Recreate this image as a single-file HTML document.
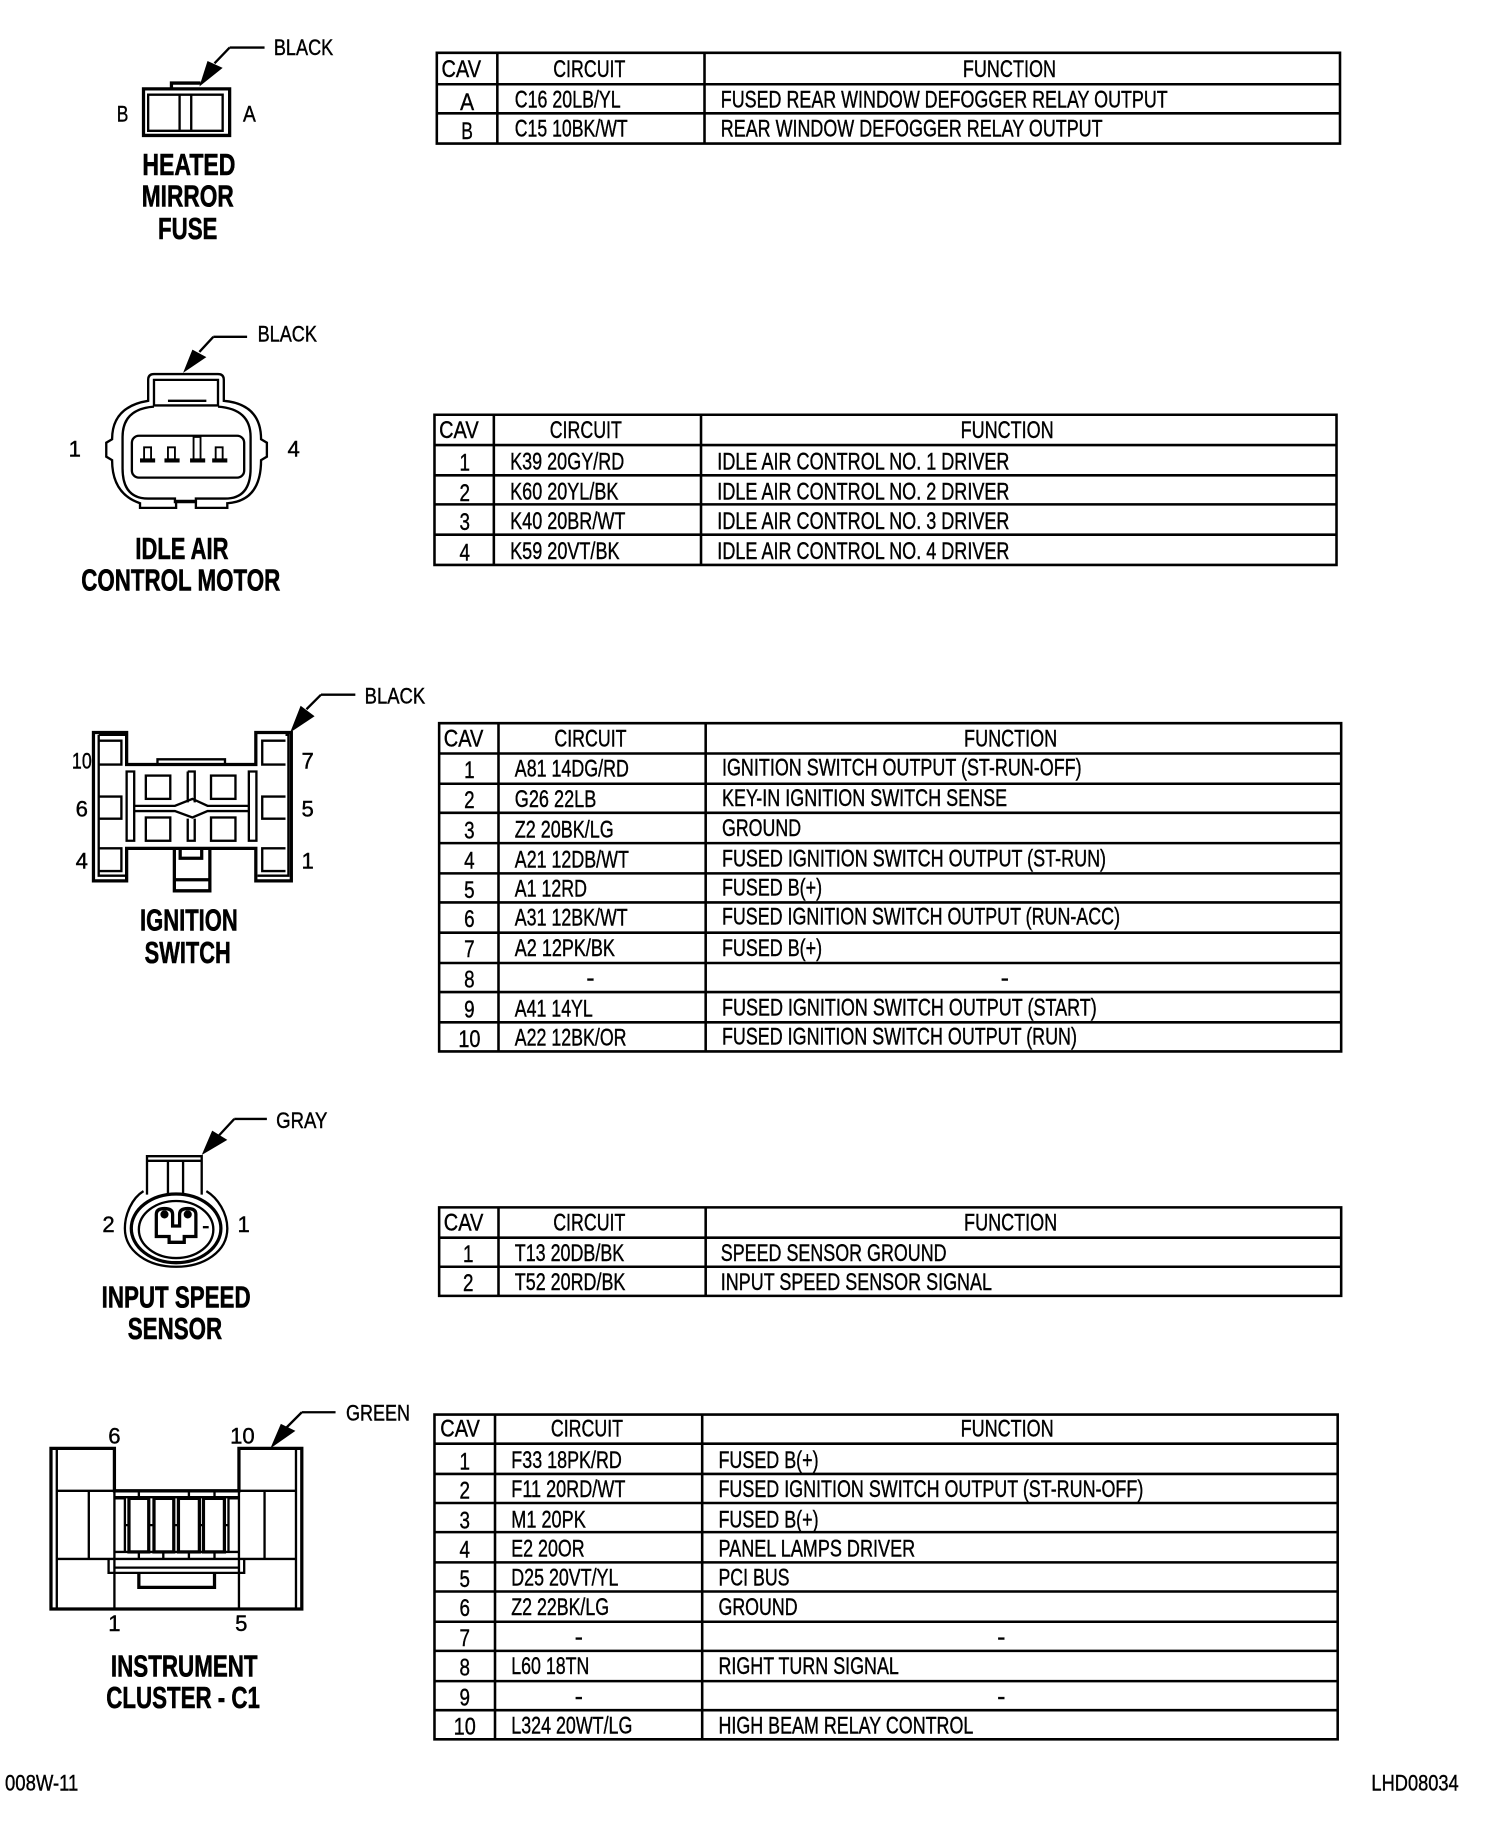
<!DOCTYPE html>
<html><head><meta charset="utf-8"><style>
html,body{margin:0;padding:0;background:#fff;width:1504px;height:1824px;overflow:hidden}
svg{display:block}
text{font-family:"Liberation Sans",sans-serif;fill:#000;font-size:21px;stroke:#000;stroke-width:.35px}
.b{font-weight:bold;font-size:26px;text-anchor:middle;stroke-width:.5px}
.s{font-size:19px}
.g{fill:none;stroke:#000;stroke-width:2}
.t{fill:none;stroke:#000;stroke-width:2.2}
.o{fill:none;stroke:#000;stroke-width:2.8}
.m{text-anchor:middle}
</style></head><body>
<svg xmlns="http://www.w3.org/2000/svg" width="1504" height="1824" viewBox="0 0 1292.2 1567">
<rect width="1293" height="1567" fill="#fff"/>
<g transform="translate(-0.7,-0.7)">

<!-- TABLE 1 -->
<path class="t" d="M376 46H1152V124H376ZM428 46V124M606 46V124M376 73H1152M376 98H1152"/>
<g>
<text x="380" y="67" textLength="34" lengthAdjust="spacingAndGlyphs">CAV</text><text x="476" y="67" textLength="62" lengthAdjust="spacingAndGlyphs">CIRCUIT</text><text x="828" y="67" textLength="80" lengthAdjust="spacingAndGlyphs">FUNCTION</text>
<text x="402" y="95" class="m" textLength="12" lengthAdjust="spacingAndGlyphs">A</text><text x="443" y="93" textLength="91" lengthAdjust="spacingAndGlyphs">C16 20LB/YL</text><text x="620" y="93" textLength="384" lengthAdjust="spacingAndGlyphs">FUSED REAR WINDOW DEFOGGER RELAY OUTPUT</text>
<text x="402" y="120" class="m" textLength="10" lengthAdjust="spacingAndGlyphs">B</text><text x="443" y="118" textLength="97" lengthAdjust="spacingAndGlyphs">C15 10BK/WT</text><text x="620" y="118" textLength="328" lengthAdjust="spacingAndGlyphs">REAR WINDOW DEFOGGER RELAY OUTPUT</text>
</g>

<!-- TABLE 2 -->
<path class="t" d="M374 357H1149V486H374ZM425 357V486M603 357V486M374 383H1149M374 409H1149M374 434H1149M374 460H1149"/>
<g>
<text x="378" y="377" textLength="34" lengthAdjust="spacingAndGlyphs">CAV</text><text x="473" y="377" textLength="62" lengthAdjust="spacingAndGlyphs">CIRCUIT</text><text x="826" y="377" textLength="80" lengthAdjust="spacingAndGlyphs">FUNCTION</text>
<text x="400" y="405" class="m" textLength="9" lengthAdjust="spacingAndGlyphs">1</text><text x="439" y="404" textLength="98" lengthAdjust="spacingAndGlyphs">K39 20GY/RD</text><text x="617" y="404" textLength="251" lengthAdjust="spacingAndGlyphs">IDLE AIR CONTROL NO. 1 DRIVER</text>
<text x="400" y="431" class="m" textLength="9" lengthAdjust="spacingAndGlyphs">2</text><text x="439" y="430" textLength="93" lengthAdjust="spacingAndGlyphs">K60 20YL/BK</text><text x="617" y="430" textLength="251" lengthAdjust="spacingAndGlyphs">IDLE AIR CONTROL NO. 2 DRIVER</text>
<text x="400" y="456" class="m" textLength="9" lengthAdjust="spacingAndGlyphs">3</text><text x="439" y="455" textLength="99" lengthAdjust="spacingAndGlyphs">K40 20BR/WT</text><text x="617" y="455" textLength="251" lengthAdjust="spacingAndGlyphs">IDLE AIR CONTROL NO. 3 DRIVER</text>
<text x="400" y="482" class="m" textLength="9" lengthAdjust="spacingAndGlyphs">4</text><text x="439" y="481" textLength="94" lengthAdjust="spacingAndGlyphs">K59 20VT/BK</text><text x="617" y="481" textLength="251" lengthAdjust="spacingAndGlyphs">IDLE AIR CONTROL NO. 4 DRIVER</text>
</g>

<!-- TABLE 3 -->
<path class="t" d="M378 622H1153V904H378ZM429 622V904M607 622V904M378 648H1153M378 674H1153M378 699H1153M378 725H1153M378 751H1153M378 776H1153M378 802H1153M378 828H1153M378 853H1153M378 879H1153"/>
<g>
<text x="382" y="642" textLength="34" lengthAdjust="spacingAndGlyphs">CAV</text><text x="477" y="642" textLength="62" lengthAdjust="spacingAndGlyphs">CIRCUIT</text><text x="829" y="642" textLength="80" lengthAdjust="spacingAndGlyphs">FUNCTION</text>
<text x="404" y="669" class="m" textLength="9" lengthAdjust="spacingAndGlyphs">1</text><text x="443" y="668" textLength="98" lengthAdjust="spacingAndGlyphs">A81 14DG/RD</text><text x="621" y="667" textLength="309" lengthAdjust="spacingAndGlyphs">IGNITION SWITCH OUTPUT (ST-RUN-OFF)</text>
<text x="404" y="695" class="m" textLength="9" lengthAdjust="spacingAndGlyphs">2</text><text x="443" y="694" textLength="70" lengthAdjust="spacingAndGlyphs">G26 22LB</text><text x="621" y="693" textLength="245" lengthAdjust="spacingAndGlyphs">KEY-IN IGNITION SWITCH SENSE</text>
<text x="404" y="721" class="m" textLength="9" lengthAdjust="spacingAndGlyphs">3</text><text x="443" y="720" textLength="85" lengthAdjust="spacingAndGlyphs">Z2 20BK/LG</text><text x="621" y="719" textLength="68" lengthAdjust="spacingAndGlyphs">GROUND</text>
<text x="404" y="747" class="m" textLength="9" lengthAdjust="spacingAndGlyphs">4</text><text x="443" y="746" textLength="98" lengthAdjust="spacingAndGlyphs">A21 12DB/WT</text><text x="621" y="745" textLength="330" lengthAdjust="spacingAndGlyphs">FUSED IGNITION SWITCH OUTPUT (ST-RUN)</text>
<text x="404" y="772" class="m" textLength="9" lengthAdjust="spacingAndGlyphs">5</text><text x="443" y="771" textLength="62" lengthAdjust="spacingAndGlyphs">A1 12RD</text><text x="621" y="770" textLength="86" lengthAdjust="spacingAndGlyphs">FUSED B(+)</text>
<text x="404" y="797" class="m" textLength="9" lengthAdjust="spacingAndGlyphs">6</text><text x="443" y="796" textLength="97" lengthAdjust="spacingAndGlyphs">A31 12BK/WT</text><text x="621" y="795" textLength="342" lengthAdjust="spacingAndGlyphs">FUSED IGNITION SWITCH OUTPUT (RUN-ACC)</text>
<text x="404" y="823" class="m" textLength="9" lengthAdjust="spacingAndGlyphs">7</text><text x="443" y="822" textLength="86" lengthAdjust="spacingAndGlyphs">A2 12PK/BK</text><text x="621" y="822" textLength="86" lengthAdjust="spacingAndGlyphs">FUSED B(+)</text>
<text x="404" y="849" class="m" textLength="9" lengthAdjust="spacingAndGlyphs">8</text><text x="508" y="848" class="m">-</text><text x="864" y="848" class="m">-</text>
<text x="404" y="875" class="m" textLength="9" lengthAdjust="spacingAndGlyphs">9</text><text x="443" y="874" textLength="67" lengthAdjust="spacingAndGlyphs">A41 14YL</text><text x="621" y="873" textLength="322" lengthAdjust="spacingAndGlyphs">FUSED IGNITION SWITCH OUTPUT (START)</text>
<text x="404" y="900" class="m" textLength="19" lengthAdjust="spacingAndGlyphs">10</text><text x="443" y="899" textLength="96" lengthAdjust="spacingAndGlyphs">A22 12BK/OR</text><text x="621" y="898" textLength="305" lengthAdjust="spacingAndGlyphs">FUSED IGNITION SWITCH OUTPUT (RUN)</text>
</g>

<!-- TABLE 4 -->
<path class="t" d="M378 1038H1153V1114H378ZM429 1038V1114M607 1038V1114M378 1064H1153M378 1089H1153"/>
<g>
<text x="382" y="1058" textLength="34" lengthAdjust="spacingAndGlyphs">CAV</text><text x="476" y="1058" textLength="62" lengthAdjust="spacingAndGlyphs">CIRCUIT</text><text x="829" y="1058" textLength="80" lengthAdjust="spacingAndGlyphs">FUNCTION</text>
<text x="403" y="1085" class="m" textLength="9" lengthAdjust="spacingAndGlyphs">1</text><text x="443" y="1084" textLength="94" lengthAdjust="spacingAndGlyphs">T13 20DB/BK</text><text x="620" y="1084" textLength="194" lengthAdjust="spacingAndGlyphs">SPEED SENSOR GROUND</text>
<text x="403" y="1110" class="m" textLength="9" lengthAdjust="spacingAndGlyphs">2</text><text x="443" y="1109" textLength="95" lengthAdjust="spacingAndGlyphs">T52 20RD/BK</text><text x="620" y="1109" textLength="233" lengthAdjust="spacingAndGlyphs">INPUT SPEED SENSOR SIGNAL</text>
</g>

<!-- TABLE 5 -->
<path class="t" d="M374 1216H1150V1495H374ZM426 1216V1495M604 1216V1495M374 1241H1150M374 1267H1150M374 1292H1150M374 1317H1150M374 1343H1150M374 1368H1150M374 1394H1150M374 1419H1150M374 1445H1150M374 1470H1150"/>
<g>
<text x="379" y="1235" textLength="34" lengthAdjust="spacingAndGlyphs">CAV</text><text x="474" y="1235" textLength="62" lengthAdjust="spacingAndGlyphs">CIRCUIT</text><text x="826" y="1235" textLength="80" lengthAdjust="spacingAndGlyphs">FUNCTION</text>
<text x="400" y="1263" class="m" textLength="9" lengthAdjust="spacingAndGlyphs">1</text><text x="440" y="1262" textLength="95" lengthAdjust="spacingAndGlyphs">F33 18PK/RD</text><text x="618" y="1262" textLength="86" lengthAdjust="spacingAndGlyphs">FUSED B(+)</text>
<text x="400" y="1288" class="m" textLength="9" lengthAdjust="spacingAndGlyphs">2</text><text x="440" y="1287" textLength="98" lengthAdjust="spacingAndGlyphs">F11 20RD/WT</text><text x="618" y="1287" textLength="365" lengthAdjust="spacingAndGlyphs">FUSED IGNITION SWITCH OUTPUT (ST-RUN-OFF)</text>
<text x="400" y="1314" class="m" textLength="9" lengthAdjust="spacingAndGlyphs">3</text><text x="440" y="1313" textLength="64" lengthAdjust="spacingAndGlyphs">M1 20PK</text><text x="618" y="1313" textLength="86" lengthAdjust="spacingAndGlyphs">FUSED B(+)</text>
<text x="400" y="1339" class="m" textLength="9" lengthAdjust="spacingAndGlyphs">4</text><text x="440" y="1338" textLength="63" lengthAdjust="spacingAndGlyphs">E2 20OR</text><text x="618" y="1338" textLength="169" lengthAdjust="spacingAndGlyphs">PANEL LAMPS DRIVER</text>
<text x="400" y="1364" class="m" textLength="9" lengthAdjust="spacingAndGlyphs">5</text><text x="440" y="1363" textLength="92" lengthAdjust="spacingAndGlyphs">D25 20VT/YL</text><text x="618" y="1363" textLength="61" lengthAdjust="spacingAndGlyphs">PCI BUS</text>
<text x="400" y="1389" class="m" textLength="9" lengthAdjust="spacingAndGlyphs">6</text><text x="440" y="1388" textLength="84" lengthAdjust="spacingAndGlyphs">Z2 22BK/LG</text><text x="618" y="1388" textLength="68" lengthAdjust="spacingAndGlyphs">GROUND</text>
<text x="400" y="1415" class="m" textLength="9" lengthAdjust="spacingAndGlyphs">7</text><text x="498" y="1414" class="m">-</text><text x="861" y="1414" class="m">-</text>
<text x="400" y="1440" class="m" textLength="9" lengthAdjust="spacingAndGlyphs">8</text><text x="440" y="1439" textLength="67" lengthAdjust="spacingAndGlyphs">L60 18TN</text><text x="618" y="1439" textLength="155" lengthAdjust="spacingAndGlyphs">RIGHT TURN SIGNAL</text>
<text x="400" y="1466" class="m" textLength="9" lengthAdjust="spacingAndGlyphs">9</text><text x="498" y="1465" class="m">-</text><text x="861" y="1465" class="m">-</text>
<text x="400" y="1491" class="m" textLength="19" lengthAdjust="spacingAndGlyphs">10</text><text x="440" y="1490" textLength="104" lengthAdjust="spacingAndGlyphs">L324 20WT/LG</text><text x="618" y="1490" textLength="219" lengthAdjust="spacingAndGlyphs">HIGH BEAM RELAY CONTROL</text>
</g>

<!-- HEATED MIRROR FUSE -->
<path class="o" d="M124 77H198V117H124Z"/>
<path class="g" d="M128 82H192V113H128ZM155 82V113M165 82V113"/>
<path class="o" d="M148 77V72H173"/>
<path class="g" d="M198 41.500H228M198 41.500L185 55"/>
<path d="M172 75L179 53L192 59Z" fill="#000"/>
<text x="236" y="48" class="s" textLength="51" lengthAdjust="spacingAndGlyphs">BLACK</text>
<text x="106" y="105" class="s m" textLength="10" lengthAdjust="spacingAndGlyphs">B</text><text x="215" y="105" class="s m" textLength="11" lengthAdjust="spacingAndGlyphs">A</text>
<text class="b" x="163" y="151" textLength="80" lengthAdjust="spacingAndGlyphs">HEATED</text>
<text class="b" x="162" y="178" textLength="79" lengthAdjust="spacingAndGlyphs">MIRROR</text>
<text class="b" x="162" y="206" textLength="51" lengthAdjust="spacingAndGlyphs">FUSE</text>

<!-- IDLE AIR CONTROL MOTOR -->
<path class="g" stroke-width="2.4" d="M128 345V327Q128 322 133 322H188Q193 322 193 327V345Q225 348 225 378L230 381V393L225 396Q225 431 196 433V437H169V431H152V437H121V433Q97 425 97 396L92 393V381L97 378Q97 350 128 345Z"/>
<path class="g" d="M133 350V327H188V350M133 349H188M145 345H178M133 350Q106 352 106 376V403Q106 429 128 429H151V432H169V429H194Q216 429 216 403V376Q216 352 188 350"/>
<rect class="g" x="114" y="375" width="96.500" height="36" rx="6"/>
<path d="M121 394.500H134V398H121ZM142 394.500H155V398H142ZM164 394.500H177V398H164ZM183 394.500H196V398H183Z" fill="#000"/>
<path fill="none" stroke="#000" stroke-width="1.600" d="M124.500 395V385H130.500V395M145 395V385H151V395M167 395V376H173V395M186 395V385H192V395"/>
<path class="g" d="M184 290H213M184 290L172 303"/>
<path d="M158 321L166 301L178 307.500Z" fill="#000"/>
<text x="222" y="294" class="s" textLength="51" lengthAdjust="spacingAndGlyphs">BLACK</text>
<text x="65" y="393" class="s m">1</text><text x="253" y="393" class="s m">4</text>
<text class="b" x="157" y="481" textLength="80" lengthAdjust="spacingAndGlyphs">IDLE AIR</text>
<text class="b" x="156" y="508" textLength="171" lengthAdjust="spacingAndGlyphs">CONTROL MOTOR</text>

<!-- IGNITION SWITCH -->
<path class="o" d="M81 630H109.500V657.500H220.500V630H251V757.500H220.500V729.500H109.500V757.500H81Z"/>
<path class="g" d="M85.500 632H109M85.500 632V753H109M246 632H248.500V753H222M86.500 637H105V657.500H86.500M86.500 685H105V704H86.500M86.500 729.500H105V749H86.500M246 637H226V657.500H246M246 685H226V704H246M246 729.500H226V749H246"/>
<path class="g" d="M109.500 663.500H116V723H109.500ZM214.500 663.500H221V723H214.500ZM162 663.500H168V690M162 690V663.500M162 704V723H168V704"/>
<rect class="g" x="126" y="667" width="21" height="20"/><rect class="g" x="182" y="667" width="21" height="20"/><rect class="g" x="126" y="703" width="21" height="20"/><rect class="g" x="182" y="703" width="21" height="20"/>
<path class="g" d="M116 693H151L166 687L179 693H214M116 697.500H151L166 703L179 697.500H214M136 657V653H194V657"/>
<path class="o" d="M150.500 729.500V766H181V729.500M150.500 756.500H181M155.500 729.500V738H174V729.500"/>
<path class="g" d="M276.500 597.500H306M276.500 597.500L264 610"/>
<path d="M250 630L259 607L271 616Z" fill="#000"/>
<text x="314" y="605" class="s" textLength="52" lengthAdjust="spacingAndGlyphs">BLACK</text>
<text x="71" y="661" class="s m" textLength="17" lengthAdjust="spacingAndGlyphs">10</text><text x="71" y="702" class="s m">6</text><text x="71" y="747" class="s m">4</text>
<text x="265" y="661" class="s m">7</text><text x="265" y="702" class="s m">5</text><text x="265" y="747" class="s m">1</text>
<text class="b" x="163" y="800" textLength="84" lengthAdjust="spacingAndGlyphs">IGNITION</text>
<text class="b" x="162" y="828" textLength="74" lengthAdjust="spacingAndGlyphs">SWITCH</text>

<!-- INPUT SPEED SENSOR -->
<path class="g" d="M127 1027V994H174V1027M127 998H174M145 998V1027M158 998V1027"/>
<path class="g" d="M124 1024C114 1030 108 1044 108 1056C108 1076 128 1089 152 1089C176 1089 196 1076 196 1056C196 1043 188 1030 178 1024"/>
<ellipse class="o" cx="152" cy="1056" rx="38.500" ry="29.500"/>
<ellipse class="g" cx="152" cy="1057" rx="32" ry="24.500"/>
<path class="o" d="M135 1058V1044Q135 1039 142 1039Q149 1039 149 1044V1054H155V1044Q155 1039 162 1039Q169 1039 169 1044V1063H159V1068H146V1063H135Z"/>
<circle cx="142" cy="1044" r="3.500" fill="#000"/><circle cx="162" cy="1044" r="3.500" fill="#000"/>
<path class="g" d="M175 1055H180"/>
<path class="g" d="M202 962H230M202 962L189 976"/>
<path d="M174 993L183 972L196 980Z" fill="#000"/>
<text x="238" y="970" class="s" textLength="44" lengthAdjust="spacingAndGlyphs">GRAY</text>
<text x="94" y="1059" class="s m">2</text><text x="210" y="1059" class="s m">1</text>
<text class="b" x="152" y="1124" textLength="128" lengthAdjust="spacingAndGlyphs">INPUT SPEED</text>
<text class="b" x="151" y="1151" textLength="81" lengthAdjust="spacingAndGlyphs">SENSOR</text>

<!-- INSTRUMENT CLUSTER C1 -->
<path class="o" d="M44.500 1245H99V1281.500H206V1245H260V1383H44.500Z"/>
<path class="g" d="M49.500 1245V1383M255 1245V1383M50 1281.500H99M206 1281.500H255M50 1340H255M77 1281.500V1340M228 1281.500V1340M99 1281.500V1383M206 1281.500V1383"/>
<path class="g" d="M99 1287H206M99 1288H108V1334H99M206 1288H197V1334H206M99 1334H206M120 1282V1288M163 1282V1288M185 1282V1288M120 1334V1340M141 1334V1340M163 1334V1340M185 1334V1340M108 1311H111M128 1311H133M150 1311H154M172 1311H175M194 1311H197"/>
<rect class="o" x="111.500" y="1288" width="17" height="46" stroke-width="2.500"/><rect class="o" x="133" y="1288" width="17" height="46" stroke-width="2.500"/><rect class="o" x="154" y="1288" width="18" height="46" stroke-width="2.500"/><rect class="o" x="175.500" y="1288" width="18" height="46" stroke-width="2.500"/>
<path class="g" d="M94 1340V1352H210.500V1340M99 1347.500H206"/>
<path class="o" d="M120 1352V1364.500H185V1352" stroke-width="2.400"/>
<path class="g" d="M260 1214H289M260 1214L247 1227"/>
<path d="M233 1245L242 1224L254.500 1230Z" fill="#000"/>
<text x="298" y="1221" class="s" textLength="55" lengthAdjust="spacingAndGlyphs">GREEN</text>
<text x="99" y="1241" class="s m">6</text><text x="209" y="1241" class="s m">10</text><text x="99" y="1402" class="s m">1</text><text x="208" y="1402" class="s m">5</text>
<text class="b" x="159" y="1441" textLength="126" lengthAdjust="spacingAndGlyphs">INSTRUMENT</text>
<text class="b" x="158" y="1468" textLength="132" lengthAdjust="spacingAndGlyphs">CLUSTER - C1</text>

<!-- FOOTER -->
<text x="5" y="1539" class="s" textLength="63" lengthAdjust="spacingAndGlyphs">008W-11</text>
<text x="1179" y="1539" class="s" textLength="75" lengthAdjust="spacingAndGlyphs">LHD08034</text>
</g>
</svg>
</body></html>
